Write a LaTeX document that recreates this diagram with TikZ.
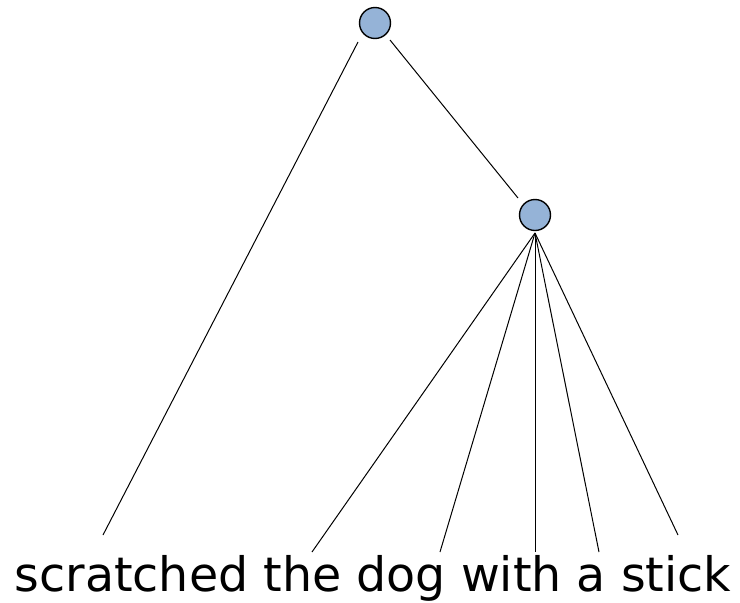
\documentclass[tikz,border=0pt]{standalone}
\usepackage{fontspec}
\setmainfont{DejaVu Sans}
\definecolor{nodeblue}{RGB}{149,179,215}
\begin{document}
\begin{tikzpicture}[x=1pt,y=-1pt,
  treenode/.style={circle,draw=black,fill=nodeblue,line width=1.4pt,minimum size=31pt,inner sep=0pt},
  edge/.style={draw=black,line width=1pt}]
\useasboundingbox (0,0) rectangle (740,603);
\node[treenode] (root) at (375,23) {};
\node[treenode] (mid) at (535,215) {};
\coordinate (rootL) at (358,42);
\coordinate (rootR) at (390,40);
\coordinate (midT) at (518,198);
\coordinate (midB) at (535,233);
\coordinate (wScratched) at (103,535);
\coordinate (wThe) at (312,552);
\coordinate (wDog) at (440,552);
\coordinate (wWith) at (535,552);
\coordinate (wA) at (599,552);
\coordinate (wStick) at (678,535);
\node[anchor=base,inner sep=0pt,font=\fontsize{47.5}{57}\selectfont] (sent) at (373,591) {scratched the dog with a stick};
\draw[edge] (rootL) -- (wScratched);
\draw[edge] (rootR) -- (midT);
\draw[edge] (midB) -- (wThe);
\draw[edge] (midB) -- (wDog);
\draw[edge] (midB) -- (wWith);
\draw[edge] (midB) -- (wA);
\draw[edge] (midB) -- (wStick);
\end{tikzpicture}
\end{document}
